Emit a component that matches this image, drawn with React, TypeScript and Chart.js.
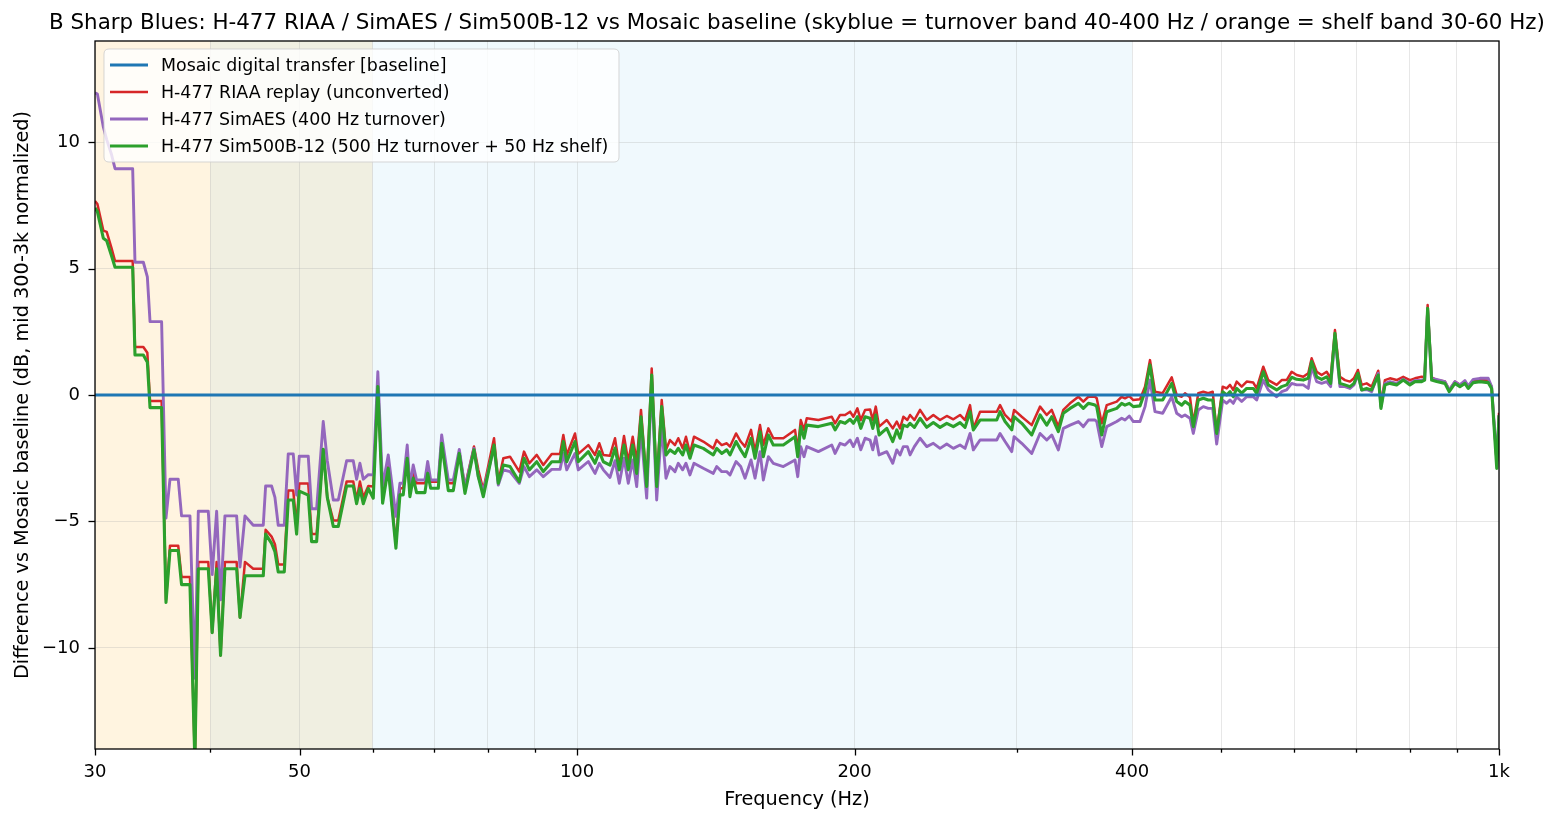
import React, { useEffect, useRef } from 'react';
import { Chart, registerables } from 'chart.js';

Chart.register(...registerables);

// ---------- DATA ----------
const FREQ_HZ = [
  30.0, 30.18, 30.63, 30.89, 31.27, 31.54, 32.96, 33.15, 33.85, 34.19, 34.42, 35.43, 35.82, 36.18, 36.93, 37.24, 38.03, 38.5, 38.83, 39.81,
  40.2, 40.65, 41.05, 41.5, 42.73, 43.09, 43.63, 44.54, 45.67, 45.94, 46.63, 47.02, 47.41, 48.13, 48.61, 49.22, 49.64, 49.97, 51.1, 51.53,
  52.18, 53.05, 53.59, 54.4, 55.08, 56.24, 57.18, 57.66, 58.14, 58.63, 59.37, 60.11, 60.8, 61.53, 62.4, 63.61, 64.25, 64.78, 65.43, 65.87,
  66.42, 66.98, 68.39, 68.86, 69.38, 70.71, 71.31, 72.5, 73.41, 74.52, 75.58, 77.3, 78.14, 79.12, 81.27, 82.14, 83.18, 84.58, 86.57, 87.59,
  88.76, 90.42, 91.92, 93.87, 95.84, 96.63, 97.46, 99.49, 100.31, 102.85, 104.59, 105.72, 106.78, 108.58, 109.94, 111.13, 112.44, 113.65, 114.91, 116.06,
  117.31, 118.99, 120.49, 122.0, 123.54, 124.87, 126.12, 127.71, 128.76, 130.18, 131.26, 132.58, 133.91, 137.06, 140.52, 141.72, 143.52, 145.33, 146.53, 148.74,
  150.49, 152.12, 154.42, 155.97, 157.93, 159.24, 161.24, 163.26, 167.39, 172.36, 173.53, 174.84, 176.28, 177.48, 182.7, 188.92, 190.49, 192.88, 195.3, 197.75,
  199.39, 201.4, 203.11, 205.31, 207.89, 209.29, 210.87, 212.61, 216.74, 220.0, 222.21, 224.05, 225.9, 228.17, 229.71, 232.19, 235.52, 239.49, 243.47, 247.58,
  251.76, 255.95, 260.26, 263.53, 266.84, 269.05, 273.6, 280.52, 285.26, 287.62, 291.23, 296.15, 297.85, 303.62, 311.3, 317.83, 323.19, 327.25, 332.69, 336.87,
  342.55, 349.73, 354.12, 358.56, 364.61, 366.16, 370.76, 375.42, 384.91, 389.74, 392.96, 397.21, 401.2, 407.96, 413.09, 418.28, 423.53, 431.75, 441.57, 447.11,
  452.73, 456.47, 462.21, 466.03, 471.88, 477.8, 483.8, 489.16, 494.06, 501.53, 506.57, 510.76, 514.98, 519.36, 525.89, 532.49, 541.34, 545.96, 555.04, 562.0,
  573.91, 581.13, 588.43, 595.81, 603.29, 613.31, 621.03, 626.31, 634.19, 642.15, 650.22, 656.75, 663.84, 672.17, 680.61, 689.16, 696.09, 703.08, 709.6, 718.51,
  727.54, 739.64, 744.64, 752.12, 761.56, 774.4, 787.28, 800.56, 810.63, 824.31, 830.5, 836.74, 845.14, 855.76, 873.69, 883.11, 895.77, 907.03, 918.41, 926.01,
  937.64, 953.46, 973.43, 981.73, 994.4, 1000.0,
];

const RIAA_DB = [
  7.67, 7.55, 6.5, 6.45, 5.8, 5.3, 5.3, 1.9, 1.9, 1.67, -0.24, -0.24, -8.1, -5.96, -5.96, -7.2, -7.2, -14.5, -6.6, -6.6,
  -9.4, -6.6, -10.3, -6.6, -6.6, -8.8, -6.6, -6.87, -6.87, -5.33, -5.6, -5.9, -6.7, -6.7, -3.78, -3.78, -5.2, -3.5, -3.5, -5.5,
  -5.5, -2.15, -4.05, -4.96, -4.96, -3.42, -3.42, -4.15, -3.42, -4.05, -3.6, -3.62, 0.26, -4.02, -2.83, -5.9, -3.69, -3.69, -2.37, -3.89,
  -3.1, -3.49, -3.49, -3.03, -3.43, -3.43, -1.78, -3.49, -3.49, -2.24, -3.62, -2.04, -2.96, -3.75, -1.71, -3.43, -2.5, -2.44, -3.03, -2.24,
  -2.7, -2.37, -2.77, -2.33, -2.33, -1.58, -2.37, -1.52, -2.33, -1.98, -2.37, -1.91, -2.37, -2.4, -1.71, -2.83, -1.62, -2.64, -1.65, -2.64,
  -0.59, -3.49, 1.05, -3.49, -0.2, -2.17, -1.78, -1.98, -1.71, -2.11, -1.65, -2.31, -1.65, -1.84, -2.11, -1.78, -1.98, -1.91, -2.04, -1.52,
  -1.84, -2.04, -1.38, -2.24, -1.19, -1.98, -1.32, -1.71, -1.71, -1.38, -2.17, -0.99, -1.38, -0.92, -0.99, -0.86, -1.12, -0.79, -0.79, -0.66,
  -0.86, -0.53, -0.99, -0.59, -0.57, -0.99, -0.46, -1.25, -0.99, -1.32, -1.05, -1.32, -0.86, -0.99, -0.79, -0.99, -0.59, -0.99, -0.79, -0.99,
  -0.83, -0.96, -0.79, -0.99, -0.4, -1.32, -0.66, -0.66, -0.66, -0.4, -0.79, -1.05, -0.59, -0.86, -1.19, -0.46, -0.79, -0.59, -1.25, -0.59,
  -0.33, -0.07, -0.26, -0.07, -0.07, -0.13, -1.12, -0.4, -0.26, -0.07, -0.13, -0.04, -0.2, -0.17, 0.33, 1.38, 0.13, 0.07, 0.7, 0.0,
  -0.07, 0.07, -0.09, -1.12, 0.07, 0.13, 0.07, 0.13, -1.45, 0.33, 0.26, 0.4, 0.2, 0.53, 0.33, 0.53, 0.49, 0.26, 1.12, 0.59,
  0.4, 0.59, 0.59, 0.92, 0.79, 0.72, 0.86, 1.45, 0.92, 0.79, 0.92, 0.66, 2.57, 0.72, 0.59, 0.53, 0.66, 0.99, 0.4, 0.46,
  0.33, 0.96, -0.33, 0.59, 0.66, 0.59, 0.72, 0.59, 0.66, 0.72, 0.7, 3.56, 0.7, 0.59, 0.53, 0.2, 0.53, 0.4, 0.53, 0.33,
  0.59, 0.59, 0.57, 0.33, -2.7, -0.7,
];

const SIMAES_DB = [
  11.95, 11.9, 10.6, 10.1, 9.5, 8.95, 8.95, 5.25, 5.25, 4.67, 2.9, 2.9, -4.87, -3.33, -3.33, -4.78, -4.78, -11.2, -4.6, -4.6,
  -7.1, -4.6, -8.1, -4.78, -4.78, -6.8, -4.78, -5.15, -5.15, -3.6, -3.6, -4.05, -5.15, -5.15, -2.33, -2.33, -3.96, -2.42, -2.42, -4.5,
  -4.5, -1.05, -2.6, -4.15, -4.15, -2.6, -2.6, -3.33, -2.7, -3.33, -3.15, -3.16, 0.92, -3.62, -2.37, -4.8, -3.49, -3.49, -1.98, -3.62,
  -2.77, -3.36, -3.36, -2.63, -3.36, -3.36, -1.58, -3.36, -3.36, -2.15, -3.69, -2.11, -3.23, -3.82, -2.04, -3.56, -2.96, -3.03, -3.49, -2.83,
  -3.23, -2.96, -3.23, -2.94, -2.94, -2.31, -2.96, -2.31, -2.96, -2.63, -3.1, -2.7, -2.96, -3.26, -2.6, -3.49, -2.5, -3.49, -2.57, -3.62,
  -1.38, -4.08, 0.5, -4.15, -1.25, -3.29, -2.83, -3.03, -2.7, -2.96, -2.7, -3.16, -2.7, -2.9, -3.1, -2.83, -3.03, -3.03, -3.16, -2.63,
  -2.83, -3.29, -2.57, -3.29, -2.24, -3.36, -2.44, -2.7, -2.83, -2.57, -3.23, -2.04, -2.44, -2.04, -2.24, -1.98, -2.31, -1.91, -1.98, -1.78,
  -2.04, -1.71, -2.17, -1.71, -1.78, -2.17, -1.65, -2.37, -2.24, -2.7, -2.17, -2.37, -2.04, -2.04, -2.37, -2.04, -1.71, -2.04, -1.91, -2.11,
  -1.94, -2.11, -1.98, -2.11, -1.52, -2.17, -1.78, -1.78, -1.78, -1.52, -1.84, -2.24, -1.65, -1.91, -2.31, -1.52, -1.78, -1.58, -2.17, -1.32,
  -1.19, -1.05, -1.25, -0.99, -0.99, -1.05, -2.04, -1.25, -1.05, -0.92, -0.99, -0.83, -1.05, -1.05, -0.46, 0.59, -0.66, -0.72, -0.07, -0.72,
  -0.86, -0.79, -0.92, -1.52, -0.59, -0.46, -0.53, -0.53, -1.94, -0.2, -0.33, -0.2, -0.33, -0.07, -0.26, -0.07, -0.07, -0.2, 0.59, 0.2,
  -0.07, 0.13, 0.2, 0.46, 0.4, 0.4, 0.26, 1.12, 0.53, 0.46, 0.53, 0.33, 2.31, 0.33, 0.33, 0.26, 0.4, 0.79, 0.2, 0.22,
  0.13, 0.86, -0.46, 0.46, 0.53, 0.46, 0.62, 0.46, 0.57, 0.59, 0.62, 3.36, 0.66, 0.62, 0.53, 0.2, 0.53, 0.4, 0.57, 0.36,
  0.62, 0.66, 0.66, 0.33, -2.6, -0.8,
];

const SIM500B_DB = [
  7.4, 7.25, 6.2, 6.1, 5.5, 5.05, 5.05, 1.58, 1.58, 1.3, -0.5, -0.5, -8.2, -6.15, -6.15, -7.5, -7.5, -14.5, -6.87, -6.87,
  -9.4, -6.87, -10.3, -6.87, -6.87, -8.8, -7.15, -7.15, -7.15, -5.5, -5.87, -6.2, -7.0, -7.0, -4.15, -4.15, -5.5, -3.8, -3.96, -5.8,
  -5.8, -2.15, -4.05, -5.2, -5.2, -3.6, -3.6, -4.3, -3.7, -4.3, -3.7, -4.08, 0.33, -4.28, -2.9, -6.06, -3.95, -3.95, -2.5, -4.02,
  -3.29, -3.86, -3.86, -3.1, -3.69, -3.69, -1.91, -3.78, -3.78, -2.31, -3.89, -2.17, -3.23, -4.02, -1.98, -3.49, -2.77, -2.83, -3.43, -2.5,
  -2.96, -2.64, -3.03, -2.64, -2.64, -1.84, -2.64, -1.84, -2.64, -2.24, -2.7, -2.24, -2.64, -2.77, -2.1, -2.96, -1.98, -2.96, -1.98, -3.1,
  -0.86, -3.62, 0.79, -3.62, -0.46, -2.37, -2.17, -2.31, -2.11, -2.37, -1.98, -2.5, -1.98, -2.11, -2.37, -2.11, -2.31, -2.17, -2.37, -1.84,
  -2.17, -2.44, -1.71, -2.5, -1.45, -2.44, -1.58, -1.98, -1.98, -1.65, -2.44, -1.25, -1.71, -1.19, -1.25, -1.12, -1.38, -1.05, -1.12, -0.96,
  -1.12, -0.86, -1.32, -0.86, -0.92, -1.32, -0.79, -1.58, -1.32, -1.84, -1.38, -1.71, -1.19, -1.25, -1.12, -1.28, -0.92, -1.28, -1.09, -1.28,
  -1.12, -1.25, -1.09, -1.28, -0.66, -1.38, -0.99, -0.99, -0.99, -0.66, -1.05, -1.38, -0.86, -1.12, -1.58, -0.79, -1.19, -0.86, -1.45, -0.72,
  -0.53, -0.33, -0.53, -0.33, -0.4, -0.46, -1.58, -0.66, -0.53, -0.33, -0.4, -0.33, -0.46, -0.43, 0.13, 1.19, -0.2, -0.2, 0.46, -0.26,
  -0.4, -0.26, -0.4, -1.25, -0.2, -0.13, -0.2, -0.2, -1.52, 0.13, 0.0, 0.13, -0.07, 0.26, 0.07, 0.26, 0.26, 0.07, 0.92, 0.4,
  0.2, 0.33, 0.4, 0.7, 0.62, 0.59, 0.66, 1.32, 0.72, 0.62, 0.72, 0.46, 2.44, 0.46, 0.4, 0.33, 0.46, 0.86, 0.2, 0.26,
  0.2, 0.79, -0.53, 0.4, 0.46, 0.4, 0.59, 0.4, 0.53, 0.53, 0.59, 3.43, 0.59, 0.53, 0.46, 0.13, 0.46, 0.33, 0.46, 0.26,
  0.49, 0.53, 0.49, 0.26, -2.9, -0.8,
];

const BASELINE_FREQ = [30, 1000];
const BASELINE_DB = [0, 0];

const SHELF_BAND_HZ = [30, 60];
const TURNOVER_BAND_HZ = [40, 400];

const X_TICKS = [30, 40, 50, 60, 70, 80, 90, 100, 200, 300, 400, 500, 600, 700, 800, 900, 1000];
const X_MAJOR = [30, 50, 100, 200, 400, 1000];
const X_MAJOR_LABELS = ['30', '50', '100', '200', '400', '1k'];
const Y_TICKS = [-10, -5, 0, 5, 10];

const SERIES_LABELS = [
  'Mosaic digital transfer [baseline]',
  'H-477 RIAA replay (unconverted)',
  'H-477 SimAES (400 Hz turnover)',
  'H-477 Sim500B-12 (500 Hz turnover + 50 Hz shelf)',
];

const TITLE =
  'B Sharp Blues: H-477 RIAA / SimAES / Sim500B-12 vs Mosaic baseline (skyblue = turnover band 40-400 Hz / orange = shelf band 30-60 Hz)';
const X_TITLE = 'Frequency (Hz)';
const Y_TITLE = 'Difference vs Mosaic baseline (dB, mid 300-3k normalized)';

// ---------- STYLE ----------
const FONT = "'DejaVu Sans', 'Liberation Sans', sans-serif";
const COLORS = ['#1f77b4', '#d62728', '#9467bd', '#2ca02c'];
const WIDTHS = [3.2, 2.5, 2.9, 3.1];
const ORDERS = [0, 3, 2, 1];
const W = 1558;
const H = 823;

export default function App() {
  const ref = useRef<HTMLCanvasElement>(null);

  useEffect(() => {
    document.body.style.margin = '0';
    const canvas = ref.current;
    if (!canvas) return;

    const pts = (xs: number[], ys: number[]) => xs.map((x, i) => ({ x, y: ys[i] }));

    const decor = {
      id: 'decor',
      beforeDraw(chart: any) {
        const { ctx, chartArea: a, scales } = chart;
        const xs = scales.x;
        ctx.save();
        ctx.fillStyle = '#ffffff';
        ctx.fillRect(0, 0, chart.width, chart.height);
        const band = (r: number[], color: string) => {
          const x0 = xs.getPixelForValue(r[0]);
          const x1 = xs.getPixelForValue(r[1]);
          ctx.fillStyle = color;
          ctx.fillRect(x0, a.top, x1 - x0, a.bottom - a.top);
        };
        band(SHELF_BAND_HZ, 'rgba(255,165,0,0.12)');
        band(TURNOVER_BAND_HZ, 'rgba(135,206,235,0.12)');
        ctx.restore();
      },
      afterDraw(chart: any) {
        const { ctx, chartArea: a, scales } = chart;
        const xs = scales.x;
        const ys = scales.y;
        ctx.save();
        // spines
        ctx.strokeStyle = '#000';
        ctx.lineWidth = 1.3;
        ctx.strokeRect(a.left, a.top, a.right - a.left, a.bottom - a.top);
        // tick marks
        ctx.lineWidth = 1.3;
        X_TICKS.forEach((v) => {
          const px = Math.round(xs.getPixelForValue(v)) + 0.5;
          const len = X_MAJOR.includes(v) ? 6.5 : 3.7;
          ctx.beginPath();
          ctx.moveTo(px, a.bottom);
          ctx.lineTo(px, a.bottom + len);
          ctx.stroke();
        });
        Y_TICKS.forEach((v) => {
          const py = Math.round(ys.getPixelForValue(v)) + 0.5;
          ctx.beginPath();
          ctx.moveTo(a.left, py);
          ctx.lineTo(a.left - 6.5, py);
          ctx.stroke();
        });
        // title
        ctx.fillStyle = '#000';
        ctx.textAlign = 'center';
        ctx.textBaseline = 'alphabetic';
        ctx.font = `21.4px ${FONT}`;
        ctx.fillText(TITLE, (a.left + a.right) / 2, 29);
        // axis titles
        ctx.font = `19.3px ${FONT}`;
        ctx.textBaseline = 'middle';
        ctx.fillText(X_TITLE, (a.left + a.right) / 2, 800);
        ctx.save();
        ctx.translate(23, (a.top + a.bottom) / 2);
        ctx.rotate(-Math.PI / 2);
        ctx.fillText(Y_TITLE, 0, 0);
        ctx.restore();
        // legend
        const lx = a.left + 9;
        const ly = a.top + 8;
        const lw = 515;
        const lh = 113;
        const r = 5;
        ctx.beginPath();
        ctx.moveTo(lx + r, ly);
        ctx.lineTo(lx + lw - r, ly);
        ctx.quadraticCurveTo(lx + lw, ly, lx + lw, ly + r);
        ctx.lineTo(lx + lw, ly + lh - r);
        ctx.quadraticCurveTo(lx + lw, ly + lh, lx + lw - r, ly + lh);
        ctx.lineTo(lx + r, ly + lh);
        ctx.quadraticCurveTo(lx, ly + lh, lx, ly + lh - r);
        ctx.lineTo(lx, ly + r);
        ctx.quadraticCurveTo(lx, ly, lx + r, ly);
        ctx.closePath();
        ctx.fillStyle = 'rgba(255,255,255,0.8)';
        ctx.fill();
        ctx.strokeStyle = 'rgba(204,204,204,0.8)';
        ctx.lineWidth = 1;
        ctx.stroke();
        ctx.font = `17.4px ${FONT}`;
        ctx.textAlign = 'left';
        ctx.textBaseline = 'middle';
        chart.data.datasets.forEach((ds: any, i: number) => {
          const yy = ly + 16 + i * 27;
          ctx.strokeStyle = ds.borderColor;
          ctx.lineWidth = ds.borderWidth;
          ctx.beginPath();
          ctx.moveTo(lx + 6, yy);
          ctx.lineTo(lx + 44, yy);
          ctx.stroke();
          ctx.fillStyle = '#000';
          ctx.fillText(ds.label, lx + 57, yy + 1);
        });
        ctx.restore();
      },
    };

    const mk = (i: number, data: any[]) => ({
      label: SERIES_LABELS[i],
      data,
      borderColor: COLORS[i],
      backgroundColor: COLORS[i],
      borderWidth: WIDTHS[i],
      pointRadius: 0,
      tension: 0,
      fill: false,
      borderJoinStyle: 'round',
      clip: 0,
      order: ORDERS[i],
    });

    const chart = new Chart(canvas, {
      type: 'line',
      data: {
        datasets: [
          mk(0, pts(BASELINE_FREQ, BASELINE_DB)),
          mk(1, pts(FREQ_HZ, RIAA_DB)),
          mk(2, pts(FREQ_HZ, SIMAES_DB)),
          mk(3, pts(FREQ_HZ, SIM500B_DB)),
        ] as any,
      },
      options: {
        animation: false,
        responsive: false,
        devicePixelRatio: 1,
        parsing: false as any,
        normalized: true,
        layout: { padding: { top: 41, right: 59, left: 0, bottom: 0 } },
        plugins: {
          legend: { display: false },
          title: { display: false },
          tooltip: { enabled: false },
        },
        scales: {
          x: {
            type: 'logarithmic',
            min: 30,
            max: 1000,
            afterBuildTicks: (s: any) => {
              s.ticks = X_TICKS.map((v) => ({ value: v }));
            },
            afterFit: (s: any) => {
              s.height = 74;
            },
            grid: { color: 'rgba(176,176,176,0.3)', lineWidth: 1, drawTicks: false },
            border: { display: false },
            ticks: {
              autoSkip: false,
              maxRotation: 0,
              minRotation: 0,
              padding: 13,
              color: '#000',
              font: { family: FONT, size: 18 },
              callback: (v: any) => {
                const k = X_MAJOR.indexOf(Number(v));
                return k >= 0 ? X_MAJOR_LABELS[k] : '';
              },
            },
          },
          y: {
            type: 'linear',
            min: -14,
            max: 14,
            afterBuildTicks: (s: any) => {
              s.ticks = Y_TICKS.map((v) => ({ value: v }));
            },
            afterFit: (s: any) => {
              s.width = 95;
            },
            grid: { color: 'rgba(176,176,176,0.3)', lineWidth: 1, drawTicks: false },
            border: { display: false },
            ticks: {
              padding: 15,
              color: '#000',
              font: { family: FONT, size: 18 },
              callback: (v: any) => (Number(v) < 0 ? '\u2212' + Math.abs(Number(v)) : String(v)),
            },
          },
        },
      } as any,
      plugins: [decor],
    });

    return () => chart.destroy();
  }, []);

  return (
    <div style={{ width: W, height: H, position: 'relative', background: '#fff' }}>
      <canvas ref={ref} width={W} height={H} style={{ width: W, height: H, display: 'block' }} />
    </div>
  );
}
